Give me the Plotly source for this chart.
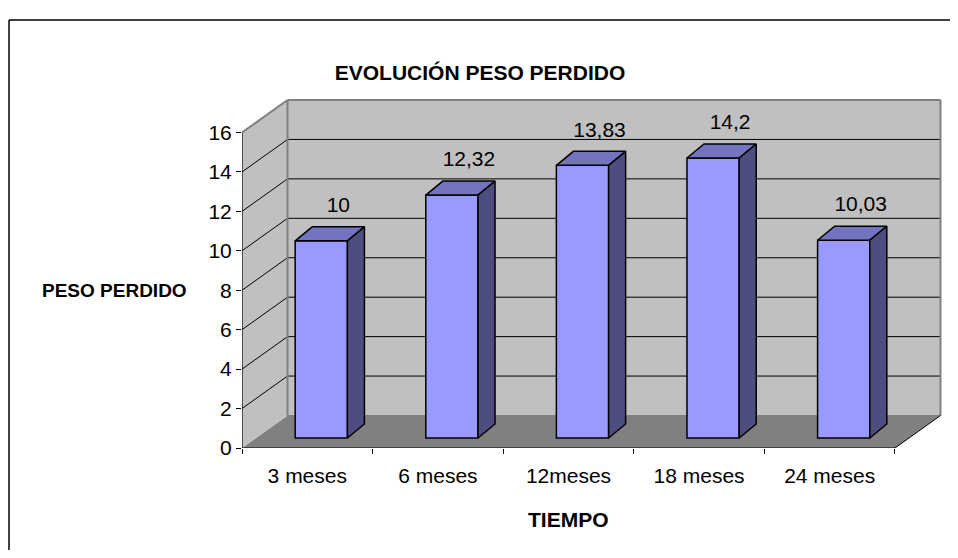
import plotly.graph_objects as go

categories = ["3 meses", "6 meses", "12meses", "18 meses", "24 meses"]
values = [10, 12.32, 13.83, 14.2, 10.03]
value_labels = ["10", "12,32", "13,83", "14,2", "10,03"]
y_ticks = [0, 2, 4, 6, 8, 10, 12, 14, 16]

# page body has an 8px margin on every side; keep the figure inside the window
OFF = 8
W, H = 958 - 2 * OFF, 558 - 2 * OFF
PLOT_L, PLOT_R, PLOT_T, PLOT_B = 242, 942, 99, 448   # screen pixels of the plot area
ML = PLOT_L - OFF
MR = W - (PLOT_R - OFF)
MT = PLOT_T - OFF
MB = H - (PLOT_B - OFF)
XR = [-0.5, 4.86]
YR = [0, 17.7]
XPX = (PLOT_R - PLOT_L) / (XR[1] - XR[0])
YPX = (PLOT_B - PLOT_T) / (YR[1] - YR[0])

# depth of the 3D box (data units)
DX = 45.5 / XPX
DY = 32.5 / YPX
# bar placement in depth and bar depth
F = 0.308
BW = 0.40
BDX = 17 / XPX
BDY = 14 / YPX
LBL = 20 / YPX

n = len(categories)
x0, x1 = -0.5, n - 0.5
ymax = y_ticks[-1]

FONT = "Arial, Liberation Sans, sans-serif"
WALL = "#C0C0C0"
FLOOR = "#808080"
EDGE = "#808080"

shapes = []
def poly(pts, fill, line_color=None, width=0):
    p = "M " + " L ".join(f"{x},{y}" for x, y in pts) + " Z"
    shapes.append(dict(type="path", path=p, xref="x", yref="y", fillcolor=fill,
                       line=dict(color=line_color or fill, width=width), layer="below"))
def seg(a, b, color="black", width=1):
    shapes.append(dict(type="line", x0=a[0], y0=a[1], x1=b[0], y1=b[1], xref="x", yref="y",
                       line=dict(color=color, width=width), layer="below"))

# floor
poly([(x0, 0), (x1, 0), (x1 + DX, DY), (x0 + DX, DY)], FLOOR)
# left wall
poly([(x0, 0), (x0, ymax), (x0 + DX, ymax + DY), (x0 + DX, DY)], WALL)
# back wall
poly([(x0 + DX, DY), (x0 + DX, ymax + DY), (x1 + DX, ymax + DY), (x1 + DX, DY)], WALL)
# gridlines
for v in y_ticks[1:-1]:
    seg((x0 + DX, v + DY), (x1 + DX, v + DY))
    seg((x0, v), (x0 + DX, v + DY))
# wall edges
seg((x0, ymax), (x0 + DX, ymax + DY), EDGE, 2)
seg((x0 + DX, ymax + DY), (x1 + DX, ymax + DY), EDGE, 2)
seg((x1 + DX, ymax + DY), (x1 + DX, DY), EDGE, 2)
seg((x0 + DX, ymax + DY), (x0 + DX, DY), EDGE, 2)
seg((x0 + DX, DY), (x1 + DX, DY), EDGE, 1)
# floor right edge
seg((x1, 0), (x1 + DX, DY), "black", 1)
# axis lines
seg((x0, 0), (x0, ymax), "black", 1.2)
seg((x0, 0), (x1, 0), "black", 1.2)

# outer chart border: only the top and left edges are visible
def px_to_paper_x(px):
    return (px - PLOT_L) / (PLOT_R - PLOT_L)
def py_to_paper_y(py):
    return (PLOT_B - py) / (PLOT_B - PLOT_T)
for (ax, ay, bx, by) in [(9, 20, 1000, 20), (9, 20, 9, 620)]:
    shapes.append(dict(type="line", xref="paper", yref="paper",
                       x0=px_to_paper_x(ax), y0=py_to_paper_y(ay),
                       x1=px_to_paper_x(bx), y1=py_to_paper_y(by),
                       line=dict(color="black", width=1.5), layer="below"))

fig = go.Figure()

base = F * DY
xc = [i + F * DX for i in range(n)]

# front faces
fig.add_trace(go.Bar(x=xc, y=values, base=[base] * n, width=BW,
                     marker=dict(color="#9999FF", line=dict(color="black", width=1.5)),
                     hoverinfo="skip", showlegend=False))

for i, v in enumerate(values):
    xl, xr = xc[i] - BW / 2, xc[i] + BW / 2
    top = base + v
    # top face
    fig.add_trace(go.Scatter(
        x=[xl, xr, xr + BDX, xl + BDX, xl], y=[top, top, top + BDY, top + BDY, top],
        fill="toself", fillcolor="#7373BF", mode="lines",
        line=dict(color="black", width=1.5), hoverinfo="skip", showlegend=False))
    # side face
    fig.add_trace(go.Scatter(
        x=[xr, xr, xr + BDX, xr + BDX, xr], y=[base, top, top + BDY, base + BDY, base],
        fill="toself", fillcolor="#4D4D80", mode="lines",
        line=dict(color="black", width=1.5), hoverinfo="skip", showlegend=False))

# value labels
fig.add_trace(go.Scatter(
    x=[c + BDX for c in xc], y=[base + v + BDY + LBL for v in values],
    text=value_labels, mode="text", textposition="middle center",
    textfont=dict(family=FONT, size=21, color="black"),
    hoverinfo="skip", showlegend=False))

# invisible trace on xaxis2 for category labels
fig.add_trace(go.Scatter(x=[0], y=[0], xaxis="x2", mode="markers",
                         marker=dict(opacity=0), hoverinfo="skip", showlegend=False))

fig.update_layout(
    width=W, height=H, autosize=False,
    margin=dict(l=ML, r=MR, t=MT, b=MB),
    paper_bgcolor="white", plot_bgcolor="rgba(0,0,0,0)",
    shapes=shapes,
    title=dict(text="<b>EVOLUCIÓN PESO PERDIDO</b>", x=(480 - OFF) / W, xanchor="center",
               y=1 - (73 - OFF) / H, yanchor="middle",
               font=dict(family=FONT, size=21, color="black")),
    xaxis=dict(range=XR, showgrid=False, zeroline=False, showline=False,
               tickmode="array", tickvals=[i - 0.5 for i in range(n + 1)],
               ticktext=[""] * (n + 1), ticks="outside", ticklen=5,
               tickcolor="black", tickwidth=1.2),
    xaxis2=dict(range=XR, overlaying="x", side="bottom", showgrid=False,
                zeroline=False, showline=False, tickmode="array",
                tickvals=list(range(n)), ticktext=categories, ticks="",
                ticklabelstandoff=13,
                tickfont=dict(family=FONT, size=21, color="black")),
    yaxis=dict(range=YR, showgrid=False, zeroline=False, showline=False,
               tickmode="array", tickvals=y_ticks, ticks="outside", ticklen=5,
               tickcolor="black", tickwidth=1.2,
               tickfont=dict(family=FONT, size=21, color="black")),
    annotations=[
        dict(text="<b>PESO PERDIDO</b>", xref="paper", yref="paper",
             x=px_to_paper_x(115), y=py_to_paper_y(290), showarrow=False,
             xanchor="center", yanchor="middle",
             font=dict(family=FONT, size=19, color="black")),
        dict(text="<b>TIEMPO</b>", xref="paper", yref="paper",
             x=px_to_paper_x(568), y=py_to_paper_y(519), showarrow=False,
             xanchor="center", yanchor="middle",
             font=dict(family=FONT, size=21, color="black")),
    ],
)

fig.write_html("out.html")
